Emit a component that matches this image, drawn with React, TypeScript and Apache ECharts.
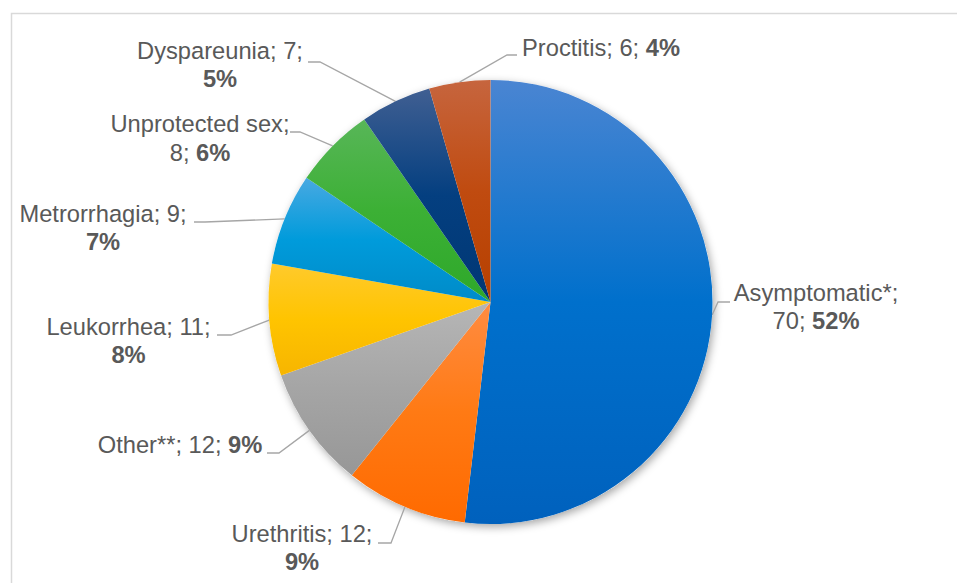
import React, { useEffect, useRef } from "react";
import * as echarts from "echarts";

const categories = [
  "Asymptomatic*",
  "Urethritis",
  "Other**",
  "Leukorrhea",
  "Metrorrhagia",
  "Unprotected sex",
  "Dyspareunia",
  "Proctitis",
];
const values = [70, 12, 12, 11, 9, 8, 7, 6];

// label line-break style: 0 = "name;\nvalue; pct", 1 = "name; value;\npct", 2 = one line
const wrapModes = [0, 1, 2, 1, 1, 0, 1, 2];

// gradient colours (top, middle, bottom) for each slice
const sliceColors = [
  ["#4a85d2", "#0070cc", "#0061bd"],
  ["#ff8c42", "#ff7a14", "#ff6a00"],
  ["#b6b6b6", "#a5a5a5", "#979797"],
  ["#ffca2c", "#ffc400", "#f7b500"],
  ["#48a9e2", "#009bdb", "#008bc8"],
  ["#58b658", "#3cb035", "#2ea82a"],
  ["#405f92", "#043f80", "#003774"],
  ["#c6653e", "#c04b10", "#b64000"],
];

// label anchor (centre of the label block) and leader-line elbow points
const labelCenters = [
  [816, 307],
  [302, 548],
  [180, 445],
  [128.5, 341],
  [103, 228],
  [200, 138.5],
  [220, 65],
  [601, 47.5],
];
const elbows = [
  [[718, 302], [730, 302]],
  [[391, 543], [378, 543]],
  [[279, 453], [267, 453]],
  [[231, 335], [217, 335]],
  [[205, 222], [194, 222]],
  [[300, 132], [290, 132]],
  [[320, 62], [308, 62]],
  [[507, 55], [517, 55]],
];

const CX = 490.5;
const CY = 302;
const R = 222;
const TEXT = "#595959";
const FONT = "'Liberation Sans', Arial, sans-serif";
const FS = 23.7;

export default function App() {
  const ref = useRef<HTMLDivElement>(null);

  useEffect(() => {
    if (!ref.current) return;
    const chart = echarts.init(ref.current, null, { renderer: "svg" });
    const total = values.reduce((a, b) => a + b, 0);

    // mid-angle (clockwise from top) for each slice
    const midAngles: number[] = [];
    let acc = 0;
    values.forEach((v) => {
      midAngles.push(((acc + v / 2) / total) * Math.PI * 2);
      acc += v;
    });

    const data = categories.map((name, i) => ({
      name,
      value: values[i],
      itemStyle: {
        color: new echarts.graphic.LinearGradient(0, 0, 0, 1, [
          { offset: 0, color: sliceColors[i][0] },
          { offset: 0.5, color: sliceColors[i][1] },
          { offset: 1, color: sliceColors[i][2] },
        ]),
      },
    }));

    chart.setOption({
      animation: false,
      backgroundColor: "#ffffff",
      graphic: [
        {
          type: "rect",
          shape: { x: 11.5, y: 13.5, width: 1000, height: 700 },
          style: { fill: "none", stroke: "#d9d9d9", lineWidth: 1.5 },
          z: -10,
          silent: true,
        },
      ],
      series: [
        {
          type: "pie",
          center: [CX, CY],
          radius: R,
          silent: true,
          z: 1,
          label: { show: false },
          labelLine: { show: false },
          itemStyle: {
            color: "#ffffff",
            shadowBlur: 9,
            shadowColor: "rgba(0,0,0,0.35)",
            shadowOffsetX: 2,
            shadowOffsetY: 3,
          },
          data: [{ value: total, name: "" }],
        },
        {
          type: "pie",
          center: [CX, CY],
          radius: R,
          z: 2,
          startAngle: 90,
          clockwise: true,
          avoidLabelOverlap: false,
          itemStyle: { borderWidth: 0 },
          label: {
            show: true,
            position: "outside",
            formatter: (p: any) => {
              const i = p.dataIndex;
              const pct = Math.round((values[i] / total) * 100);
              const mode = wrapModes[i];
              if (mode === 0)
                return `{n|${p.name};}\n{n|${p.value}; }{b|${pct}%}`;
              if (mode === 1)
                return `{n|${p.name}; ${p.value};}\n{b|${pct}%}`;
              return `{n|${p.name}; ${p.value}; }{b|${pct}%}`;
            },
            rich: {
              n: {
                fontSize: FS,
                color: TEXT,
                fontFamily: FONT,
                lineHeight: 28.5,
              },
              b: {
                fontSize: FS,
                color: TEXT,
                fontFamily: FONT,
                fontWeight: "bold",
                lineHeight: 28.5,
              },
            },
          },
          labelLine: {
            show: true,
            length: 10,
            length2: 10,
            lineStyle: { color: "#a6a6a6", width: 1.3 },
          },
          labelLayout: (params: any) => {
            const i = params.dataIndex;
            const a = midAngles[i];
            const edge = [CX + R * Math.sin(a), CY - R * Math.cos(a)];
            return {
              x: labelCenters[i][0],
              y: labelCenters[i][1],
              align: "center",
              verticalAlign: "middle",
              labelLinePoints: [edge, elbows[i][0], elbows[i][1]],
            };
          },
          data,
        },
      ],
    });

    return () => chart.dispose();
  }, []);

  return (
    <div
      ref={ref}
      style={{ position: "fixed", left: 0, top: 0, width: 957, height: 583 }}
    />
  );
}
